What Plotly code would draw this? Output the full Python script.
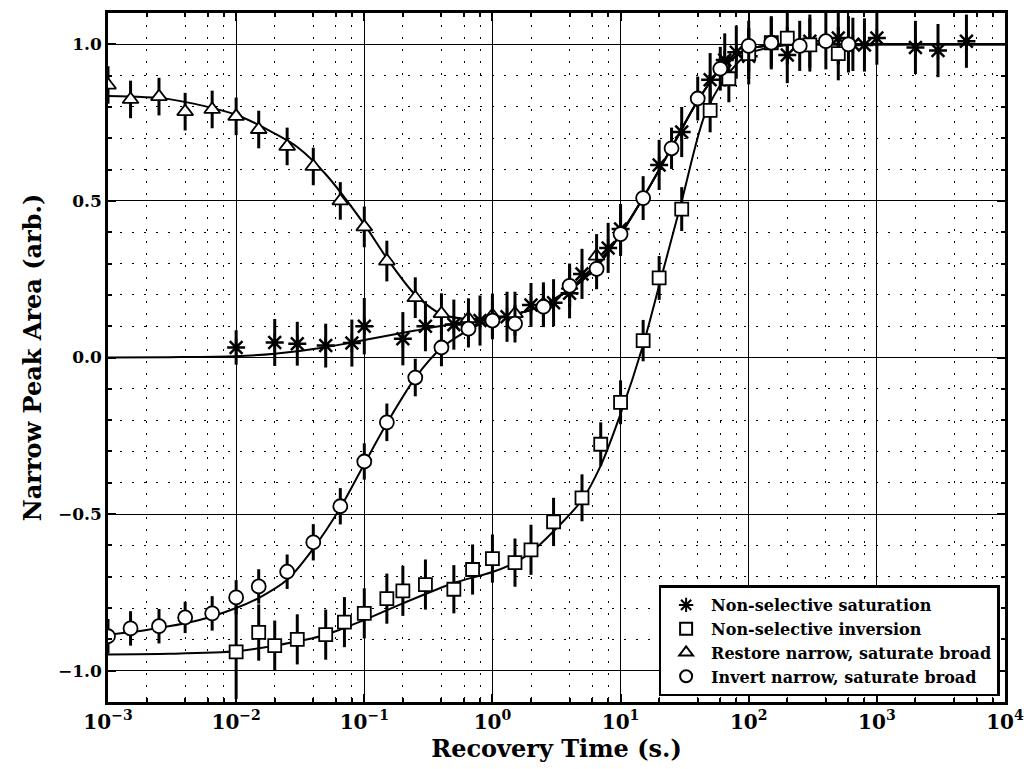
import plotly.graph_objects as go

# ---------------- data ----------------
# Non-selective saturation (asterisks)
sat_t = [0.01, 0.02, 0.03, 0.05, 0.08, 0.1, 0.2, 0.3, 0.5, 0.8, 1.3, 2.0, 3.0, 4.0, 5.0, 8.0, 10,
         20, 30, 50, 65, 80, 100, 200, 300, 500, 650, 800, 1000, 2000, 3000, 5000]
sat_y = [0.032, 0.048, 0.044, 0.038, 0.046, 0.10, 0.06, 0.10, 0.105, 0.118, 0.13, 0.168, 0.175, 0.205,
         0.267, 0.35, 0.41, 0.615, 0.72, 0.887, 0.95, 0.975, 0.962, 0.966, 1.01, 1.02, 1.0, 0.998,
         1.02, 0.99, 0.98, 1.01]
sat_e = [0.055, 0.075, 0.07, 0.07, 0.075, 0.09, 0.085, 0.08, 0.08, 0.08, 0.08, 0.07, 0.075, 0.08,
         0.08, 0.08, 0.08, 0.08, 0.08, 0.085, 0.085, 0.085, 0.09, 0.09, 0.085, 0.085, 0.085, 0.085,
         0.085, 0.085, 0.085, 0.085]

# Non-selective inversion (squares)
inv_t = [0.01, 0.015, 0.02, 0.03, 0.05, 0.07, 0.1, 0.15, 0.2, 0.3, 0.5, 0.7, 1.0, 1.5, 2.0, 3.0,
         5.0, 7.0, 10, 15, 20, 30, 50, 70, 100, 150, 200, 300, 500]
inv_y = [-0.94, -0.878, -0.92, -0.90, -0.885, -0.845, -0.817, -0.77, -0.745, -0.725, -0.74, -0.677,
         -0.642, -0.655, -0.614, -0.525, -0.448, -0.277, -0.143, 0.054, 0.254, 0.474, 0.789, 0.89,
         0.97, 1.005, 1.02, 0.998, 0.97]
inv_e = [0.15, 0.09, 0.08, 0.08, 0.08, 0.08, 0.08, 0.08, 0.08, 0.08, 0.077, 0.08, 0.077, 0.077,
         0.08, 0.077, 0.075, 0.07, 0.07, 0.066, 0.07, 0.07, 0.07, 0.075, 0.08, 0.085, 0.085, 0.085,
         0.085]

# Restore narrow, saturate broad (triangles)
res_t = [1e-3, 1.5e-3, 2.5e-3, 4e-3, 6.5e-3, 1e-2, 1.5e-2, 2.5e-2, 4e-2, 6.5e-2, 0.1, 0.15, 0.25,
         0.4, 0.65, 1.0, 1.5, 2.5, 4.0, 6.5]
res_y = [0.87, 0.824, 0.833, 0.785, 0.792, 0.77, 0.728, 0.674, 0.61, 0.50, 0.417, 0.308, 0.191,
         0.14, 0.124, 0.134, 0.14, 0.17, 0.23, 0.324]
res_e = [0.06, 0.06, 0.06, 0.06, 0.06, 0.06, 0.06, 0.06, 0.06, 0.06, 0.065, 0.065, 0.065, 0.065,
         0.065, 0.07, 0.07, 0.07, 0.07, 0.07]

# Invert narrow, saturate broad (circles)
ivn_t = [1e-3, 1.5e-3, 2.5e-3, 4e-3, 6.5e-3, 1e-2, 1.5e-2, 2.5e-2, 4e-2, 6.5e-2, 0.1, 0.15, 0.25,
         0.4, 0.65, 1.0, 1.5, 2.5, 4.0, 6.5, 10, 15, 25, 40, 60, 100, 150, 250, 400, 600]
ivn_y = [-0.89, -0.865, -0.858, -0.83, -0.817, -0.766, -0.731, -0.684, -0.59, -0.475, -0.332,
         -0.207, -0.064, 0.032, 0.092, 0.118, 0.108, 0.162, 0.229, 0.283, 0.394, 0.509, 0.668,
         0.827, 0.922, 0.995, 1.005, 0.995, 1.01, 1.0]
ivn_e = [0.055, 0.055, 0.055, 0.05, 0.055, 0.055, 0.055, 0.055, 0.058, 0.058, 0.058, 0.06, 0.06,
         0.06, 0.06, 0.06, 0.06, 0.065, 0.065, 0.065, 0.07, 0.07, 0.066, 0.07, 0.07, 0.08, 0.08,
         0.08, 0.09, 0.09]

# Fitted curves
sat_fit_t = [1e-3, 3e-3, 0.01, 0.02, 0.05, 0.1, 0.25, 0.5, 1, 2, 3, 5, 7, 10, 15, 25, 40, 60, 100,
             200, 500, 1e4]
sat_fit_y = [0.0, 0.001, 0.004, 0.012, 0.033, 0.056, 0.086, 0.108, 0.124, 0.152, 0.185, 0.245,
             0.305, 0.395, 0.51, 0.67, 0.82, 0.92, 0.985, 1.0, 1.0, 1.0]

inv_fit_t = [1e-3, 3e-3, 0.01, 0.02, 0.05, 0.1, 0.2, 0.5, 1, 1.5, 2, 3, 5, 7, 10, 15, 20, 30, 45,
             65, 100, 200, 500, 1e4]
inv_fit_y = [-0.948, -0.946, -0.938, -0.92, -0.885, -0.838, -0.785, -0.72, -0.685, -0.655, -0.622,
             -0.555, -0.455, -0.345, -0.18, 0.04, 0.23, 0.5, 0.77, 0.89, 0.97, 0.998, 1.0, 1.0]

res_fit_t = [1e-3, 3e-3, 0.01, 0.02, 0.03, 0.05, 0.1, 0.15, 0.25, 0.4, 0.6, 1, 1.5, 2.5, 4, 6.5,
             10, 15, 25, 40, 60, 100, 200, 500, 1e4]
res_fit_y = [0.835, 0.825, 0.775, 0.715, 0.672, 0.585, 0.425, 0.317, 0.2, 0.138, 0.124, 0.126,
             0.138, 0.168, 0.22, 0.3, 0.392, 0.51, 0.67, 0.82, 0.92, 0.985, 1.0, 1.0, 1.0]

ivn_fit_t = [1e-3, 2e-3, 5e-3, 0.01, 0.015, 0.025, 0.04, 0.065, 0.1, 0.15, 0.25, 0.4, 0.7, 1, 2,
             3, 5, 7, 10, 15, 25, 40, 60, 100, 200, 500, 1e4]
ivn_fit_y = [-0.885, -0.87, -0.84, -0.80, -0.768, -0.71, -0.61, -0.48, -0.34, -0.21, -0.065, 0.03,
             0.095, 0.12, 0.152, 0.185, 0.245, 0.305, 0.395, 0.51, 0.67, 0.82, 0.92, 0.985, 1.0,
             1.0, 1.0]

series_names = ["Non-selective saturation", "Non-selective inversion",
                "Restore narrow, saturate broad", "Invert narrow, saturate broad"]

x_tick_vals = [1e-3, 1e-2, 1e-1, 1e0, 1e1, 1e2, 1e3, 1e4]
x_tick_text = ["10<sup>−3</sup>", "10<sup>−2</sup>", "10<sup>−1</sup>", "10<sup>0</sup>",
               "10<sup>1</sup>", "10<sup>2</sup>", "10<sup>3</sup>", "10<sup>4</sup>"]
y_tick_vals = [-1.0, -0.5, 0.0, 0.5, 1.0]

# ---------------- figure ----------------
SERIF = "DejaVu Serif"
fig = go.Figure()

for ft, fy in [(sat_fit_t, sat_fit_y), (inv_fit_t, inv_fit_y),
               (res_fit_t, res_fit_y), (ivn_fit_t, ivn_fit_y)]:
    fig.add_trace(go.Scatter(x=ft, y=fy, mode="lines", showlegend=False, hoverinfo="skip",
                             line=dict(color="black", width=2, shape="spline", smoothing=0.8)))

marker_styles = [
    dict(symbol="asterisk-open", size=15, color="black", line=dict(color="black", width=2.5)),
    dict(symbol="square", size=13, color="white", line=dict(color="black", width=1.8)),
    dict(symbol="triangle-up", size=14, color="white", line=dict(color="black", width=1.8)),
    dict(symbol="circle", size=14, color="white", line=dict(color="black", width=1.8)),
]
for (xs, ys, es), name, ms in zip(
        [(sat_t, sat_y, sat_e), (inv_t, inv_y, inv_e), (res_t, res_y, res_e), (ivn_t, ivn_y, ivn_e)],
        series_names, marker_styles):
    fig.add_trace(go.Scatter(
        x=xs, y=ys, mode="markers", name=name, marker=ms,
        error_y=dict(type="data", array=es, visible=True, color="black", thickness=3, width=0)))

minor_x = [m * 10.0 ** e for e in range(-3, 4) for m in (2, 4, 6, 8)]
minor_y = [round(-1.1 + 0.1 * i, 2) for i in range(23)]

fig.update_xaxes(
    type="log", range=[-3, 4],
    tickmode="array", tickvals=x_tick_vals, ticktext=x_tick_text,
    tickfont=dict(family=SERIF, size=20, color="black", weight="bold"),
    showgrid=True, gridcolor="black", gridwidth=1,
    ticks="inside", ticklen=8, tickwidth=1.5, tickcolor="black",
    showline=True, linecolor="black", linewidth=2.5, mirror="allticks",
    zeroline=False,
    minor=dict(tickmode="array", tickvals=minor_x, showgrid=True, gridcolor="black",
               griddash="2px,10px", gridwidth=1, ticks="inside", ticklen=4, tickcolor="black"),
    title=dict(text="Recovery Time (s.)", font=dict(family=SERIF, size=24, color="black",
                                                     weight="bold"), standoff=4),
)
fig.update_yaxes(
    range=[-1.1, 1.1],
    tickmode="array", tickvals=y_tick_vals, tickformat=".1f",
    tickfont=dict(family=SERIF, size=17, color="black", weight="bold"),
    showgrid=True, gridcolor="black", gridwidth=1,
    ticks="inside", ticklen=8, tickwidth=1.5, tickcolor="black",
    showline=True, linecolor="black", linewidth=2.5, mirror="allticks",
    zeroline=False,
    minor=dict(tickmode="array", tickvals=minor_y, showgrid=True, gridcolor="black",
               griddash="2px,10px", gridwidth=1, ticks="inside", ticklen=4, tickcolor="black"),
    title=dict(text="Narrow Peak Area (arb.)", font=dict(family=SERIF, size=24, color="black",
                                                          weight="bold"), standoff=10),
)

fig.update_layout(
    width=1034, height=769,
    margin=dict(l=108, r=24, t=10, b=67),
    paper_bgcolor="white", plot_bgcolor="white",
    showlegend=True,
    legend=dict(x=0.994, y=0.008, xanchor="right", yanchor="bottom",
                bgcolor="white", bordercolor="black", borderwidth=2.5,
                font=dict(family=SERIF, size=16, color="black", weight="bold"),
                tracegroupgap=0, itemsizing="constant", itemwidth=40),
)

fig.write_html("out.html")
